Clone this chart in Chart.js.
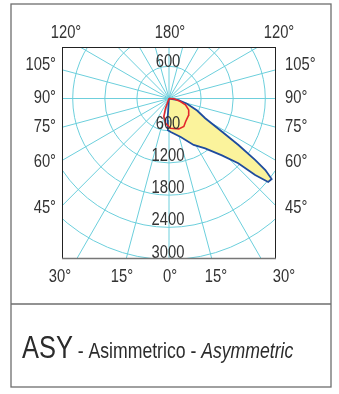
<!DOCTYPE html>
<html lang="it">
<head>
<meta charset="UTF-8">
<title>ASY - Asimmetrico</title>
<script src="https://cdn.jsdelivr.net/npm/chart.js@4"></script>
<style>
  body { margin: 0; background: #fff; }
  canvas { display: block; }
</style>
</head>
<body>
<canvas id="grafico" width="339" height="394"></canvas>
<script>
// curva blu (campita gialla): angolo gamma in gradi (0 = verso il basso), intensità cd/klm
const bluAngoli = [-5, -4, -2, 3, 17, 28, 36, 43, 47, 48.5, 50, 52, 53.5, 54.6, 56.3, 58, 61.5, 67, 74, 81, 90];
const bluValori = [0, 400, 590, 625, 750, 980, 1150, 1450, 1770, 2150, 2420, 2435, 2240, 1980, 1560, 1170, 770, 570, 350, 180, 0];

// curva rossa
const rossoAngoli = [-21, -20, -16, -8, 3, 18, 28, 36, 50, 60, 69, 75, 86, 90];
const rossoValori = [0, 190, 350, 465, 555, 595, 590, 530, 480, 425, 330, 220, 90, 0];

// cerchi della griglia e relative etichette
const cerchi = [600, 1200, 1800, 2400, 3000];
const raggi = [0, 15, 30, 45, 60, 75, 90, 105, 120, 135, 150, 165, 180, 195, 210, 225, 240, 255, 270, 285, 300, 315, 330, 345];

// etichette degli angoli attorno al riquadro
const etichetteAlto = ['120°', '180°', '120°'];
const etichetteLati = ['105°', '90°', '75°', '60°', '45°'];
const etichetteBasso = ['30°', '15°', '0°', '15°', '30°'];

const FONT = "'Liberation Sans', Arial, sans-serif";
const STRETTO = 0.82;   // niente Arial Narrow: si comprime in orizzontale
const GRIGLIA = '#6ccfdc';

// da polare a cartesiano
function punti(angoli, valori) {
  return angoli.map((a, i) => {
    const g = a * Math.PI / 180;
    return { x: valori[i] * Math.sin(g), y: -valori[i] * Math.cos(g) };
  });
}

// testo compresso, restituisce la larghezza
function testo(ctx, s, x, y, align, font) {
  ctx.save();
  ctx.font = font;
  ctx.textAlign = align;
  ctx.textBaseline = 'alphabetic';
  ctx.translate(x, y);
  ctx.scale(STRETTO, 1);
  ctx.fillText(s, 0, 0);
  const w = ctx.measureText(s).width * STRETTO;
  ctx.restore();
  return w;
}

const grigliaPolare = {
  id: 'grigliaPolare',
  beforeDatasetsDraw(chart) {
    const { ctx, chartArea: ca, scales: { x, y } } = chart;
    const cx = x.getPixelForValue(0), cy = y.getPixelForValue(0);
    ctx.save();
    ctx.beginPath();
    ctx.rect(ca.left, ca.top, ca.right - ca.left, ca.bottom - ca.top);
    ctx.clip();
    ctx.strokeStyle = GRIGLIA;
    ctx.lineWidth = 1;
    cerchi.forEach(r => {
      const rx = x.getPixelForValue(r) - cx;
      const ry = cy - y.getPixelForValue(r);
      ctx.beginPath();
      ctx.ellipse(cx, cy, rx, ry, 0, 0, Math.PI * 2);
      ctx.stroke();
    });
    raggi.forEach(a => {
      const g = a * Math.PI / 180;
      ctx.beginPath();
      ctx.moveTo(cx, cy);
      ctx.lineTo(x.getPixelForValue(6000 * Math.sin(g)), y.getPixelForValue(-6000 * Math.cos(g)));
      ctx.stroke();
    });
    ctx.restore();
  },
  afterDatasetsDraw(chart) {
    const { ctx, scales: { x, y } } = chart;
    const cx = x.getPixelForValue(0);
    ctx.save();
    ctx.fillStyle = '#333';
    const f = '18px ' + FONT;
    // 600 sopra il centro, poi i cerchi verso il basso
    testo(ctx, '600', cx - 1, y.getPixelForValue(600) + 1, 'center', f);
    cerchi.forEach(r => testo(ctx, String(r), cx - 1, y.getPixelForValue(-r) - 2, 'center', f));
    ctx.restore();
  },
  afterDraw(chart) {
    const { ctx, chartArea: ca } = chart;
    ctx.save();
    // riquadro del diagramma
    ctx.strokeStyle = '#222';
    ctx.lineWidth = 1;
    ctx.strokeRect(ca.left + 0.5, ca.top + 0.5, ca.right - ca.left - 1, ca.bottom - ca.top - 1);
    ctx.strokeStyle = '#777';
    ctx.lineWidth = 1.5;
    ctx.beginPath();
    ctx.moveTo(ca.left, ca.bottom - 0.5);
    ctx.lineTo(ca.right, ca.bottom - 0.5);
    ctx.stroke();
    // cornice esterna
    ctx.strokeStyle = '#6e6e6e';
    ctx.lineWidth = 1.3;
    ctx.strokeRect(11, 4, 320, 383);
    ctx.beginPath();
    ctx.moveTo(11, 304);
    ctx.lineTo(331, 304);
    ctx.stroke();

    ctx.fillStyle = '#333';
    const f = '18px ' + FONT;
    [66, 170, 279].forEach((px, i) => testo(ctx, etichetteAlto[i], px, 38, 'center', f));
    [60, 122, 170, 216, 284].forEach((px, i) => testo(ctx, etichetteBasso[i], px, 282, 'center', f));
    const latiY = [70, 103, 132, 167, 213];
    latiY.forEach((py, i) => testo(ctx, etichetteLati[i], 56, py, 'right', f));
    latiY.forEach((py, i) => testo(ctx, etichetteLati[i], 285, py, 'left', f));

    // didascalia
    ctx.fillStyle = '#2b2b2b';
    let px = 22;
    px += testo(ctx, 'ASY', px, 358, 'left', '31px ' + FONT);
    px += testo(ctx, ' - Asimmetrico - ', px, 358, 'left', '21.5px ' + FONT);
    testo(ctx, 'Asymmetric', px, 358, 'left', 'italic 21.5px ' + FONT);
    ctx.restore();
  }
};

new Chart(document.getElementById('grafico'), {
  type: 'scatter',
  data: {
    datasets: [
      {
        label: 'rossa',
        data: punti(rossoAngoli, rossoValori),
        showLine: true,
        borderColor: '#e3262b',
        borderWidth: 1.6,
        pointRadius: 0,
        fill: false
      },
      {
        label: 'blu',
        data: punti(bluAngoli, bluValori),
        showLine: true,
        borderColor: '#1f4c9e',
        borderWidth: 1.8,
        backgroundColor: '#fbf39c',
        pointRadius: 0,
        fill: 'shape'
      }
    ]
  },
  options: {
    responsive: false,
    animation: false,
    layout: { padding: { left: 62, right: 63, top: 47, bottom: 135 } },
    scales: {
      x: { type: 'linear', min: -2000, max: 2000, display: false },
      y: { type: 'linear', min: -2990, max: 960, display: false }
    },
    plugins: { legend: { display: false }, tooltip: { enabled: false } }
  },
  plugins: [grigliaPolare]
});
</script>
</body>
</html>
